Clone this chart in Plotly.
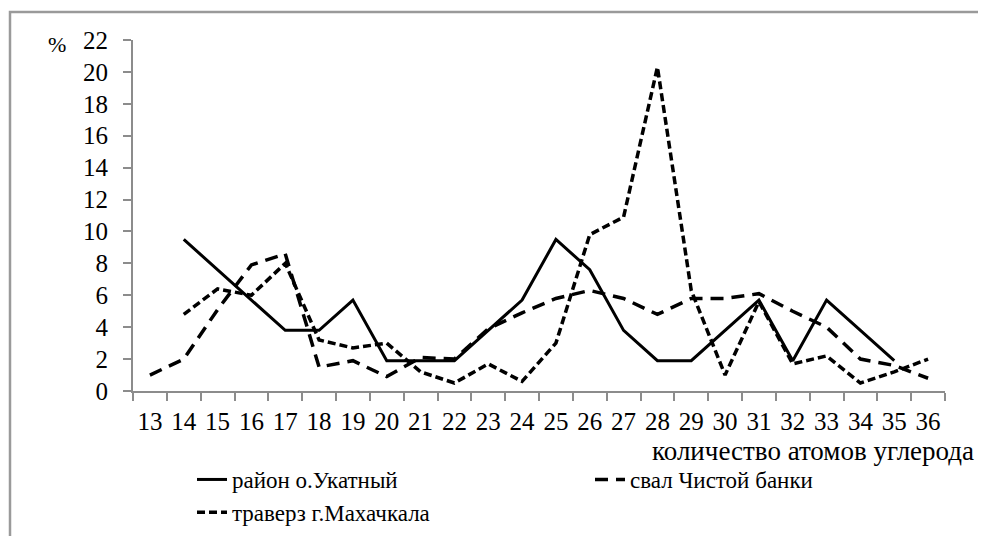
import plotly.graph_objects as go

# Data
carbon_atoms = [str(c) for c in range(13, 37)]
ukatny = [None, 9.5, 7.6, 5.7, 3.8, 3.8, 5.7, 1.9, 1.9, 1.9, 3.8, 5.7,
          9.5, 7.6, 3.8, 1.9, 1.9, 3.8, 5.7, 1.9, 5.7, 3.8, 1.9, None]
chistoy = [1.0, 2.0, 5.1, 7.9, 8.6, 1.5, 1.9, 0.9, 2.1, 2.0, 3.9, 4.9,
           5.8, 6.3, 5.8, 4.8, 5.8, 5.8, 6.1, 5.0, 4.0, 2.0, 1.6, 0.8]
makhachkala = [None, 4.8, 6.4, 6.0, 8.0, 3.2, 2.7, 3.0, 1.2, 0.5, 1.7, 0.6,
               3.0, 9.8, 10.9, 20.3, 6.3, 1.0, 5.6, 1.7, 2.2, 0.5, 1.2, 2.0]
y_ticks = list(range(0, 23, 2))

names = ["район о.Укатный", "свал Чистой банки", "траверз г.Махачкала"]

FONT = "'Liberation Serif', 'Times New Roman', 'DejaVu Serif', serif"
OFF = 8  # page body margin
W, H = 986 - OFF, 536 - OFF
L, R, T = 133 - OFF, 49 - OFF, 40 - OFF
pw = W - L - R
ph = (391 - OFF) - T
B = H - T - ph


def px_x(p):
    return (p - OFF - L) / pw


def px_y(p):
    return (H - B - (p - OFF)) / ph


fig = go.Figure()
fig.add_trace(go.Scatter(x=carbon_atoms, y=ukatny, name=names[0], mode="lines",
                         line=dict(color="black", width=3), connectgaps=False))
fig.add_trace(go.Scatter(x=carbon_atoms, y=chistoy, name=names[1], mode="lines",
                         line=dict(color="black", width=3.5, dash="13px,8px")))
fig.add_trace(go.Scatter(x=carbon_atoms, y=makhachkala, name=names[2], mode="lines",
                         line=dict(color="black", width=3.5, dash="8px,4px")))

fig.update_layout(
    width=W, height=H,
    margin=dict(l=L, r=R, t=T, b=B, autoexpand=False),
    paper_bgcolor="white", plot_bgcolor="white",
    font=dict(family=FONT, size=22, color="black"),
    showlegend=True,
    legend=dict(orientation="h", x=px_x(192), y=px_y(458), xanchor="left", yanchor="top",
                entrywidth=353, entrywidthmode="pixels",
                font=dict(family=FONT, size=23, color="black"),
                bgcolor="rgba(0,0,0,0)", itemwidth=30),
)

fig.update_xaxes(type="category", categoryorder="array", categoryarray=carbon_atoms,
                 range=[-0.5, len(carbon_atoms) - 0.5], tickangle=0,
                 showline=True, linecolor="#8c8c8c", linewidth=2,
                 ticks="outside", ticklen=8, tickcolor="#8c8c8c", tickwidth=2,
                 tickson="boundaries", showgrid=False, zeroline=False,
                 ticklabelstandoff=7,
                 tickfont=dict(family=FONT, size=25, color="black"))
fig.update_yaxes(range=[0, 22], tickvals=y_ticks, ticktext=[str(v) for v in y_ticks],
                 showline=True, linecolor="#8c8c8c", linewidth=2,
                 ticks="outside", ticklen=8, tickcolor="#8c8c8c", tickwidth=2,
                 showgrid=False, zeroline=False, ticklabelstandoff=10,
                 tickfont=dict(family=FONT, size=25, color="black"))

fig.add_annotation(text="%", xref="paper", yref="paper", x=px_x(57), y=px_y(44),
                   xanchor="center", yanchor="middle", showarrow=False,
                   font=dict(family=FONT, size=22, color="black"))
fig.add_annotation(text="количество атомов углерода", xref="paper", yref="paper",
                   x=px_x(976), y=px_y(451), xanchor="right", yanchor="middle",
                   showarrow=False, font=dict(family=FONT, size=27, color="black"))

# outer frame of the picture
fig.add_shape(type="rect", xref="paper", yref="paper",
              x0=px_x(10), x1=px_x(1010), y0=px_y(560), y1=px_y(12),
              line=dict(color="#9a9a9a", width=2.5), layer="below")

fig.write_html("out.html")
